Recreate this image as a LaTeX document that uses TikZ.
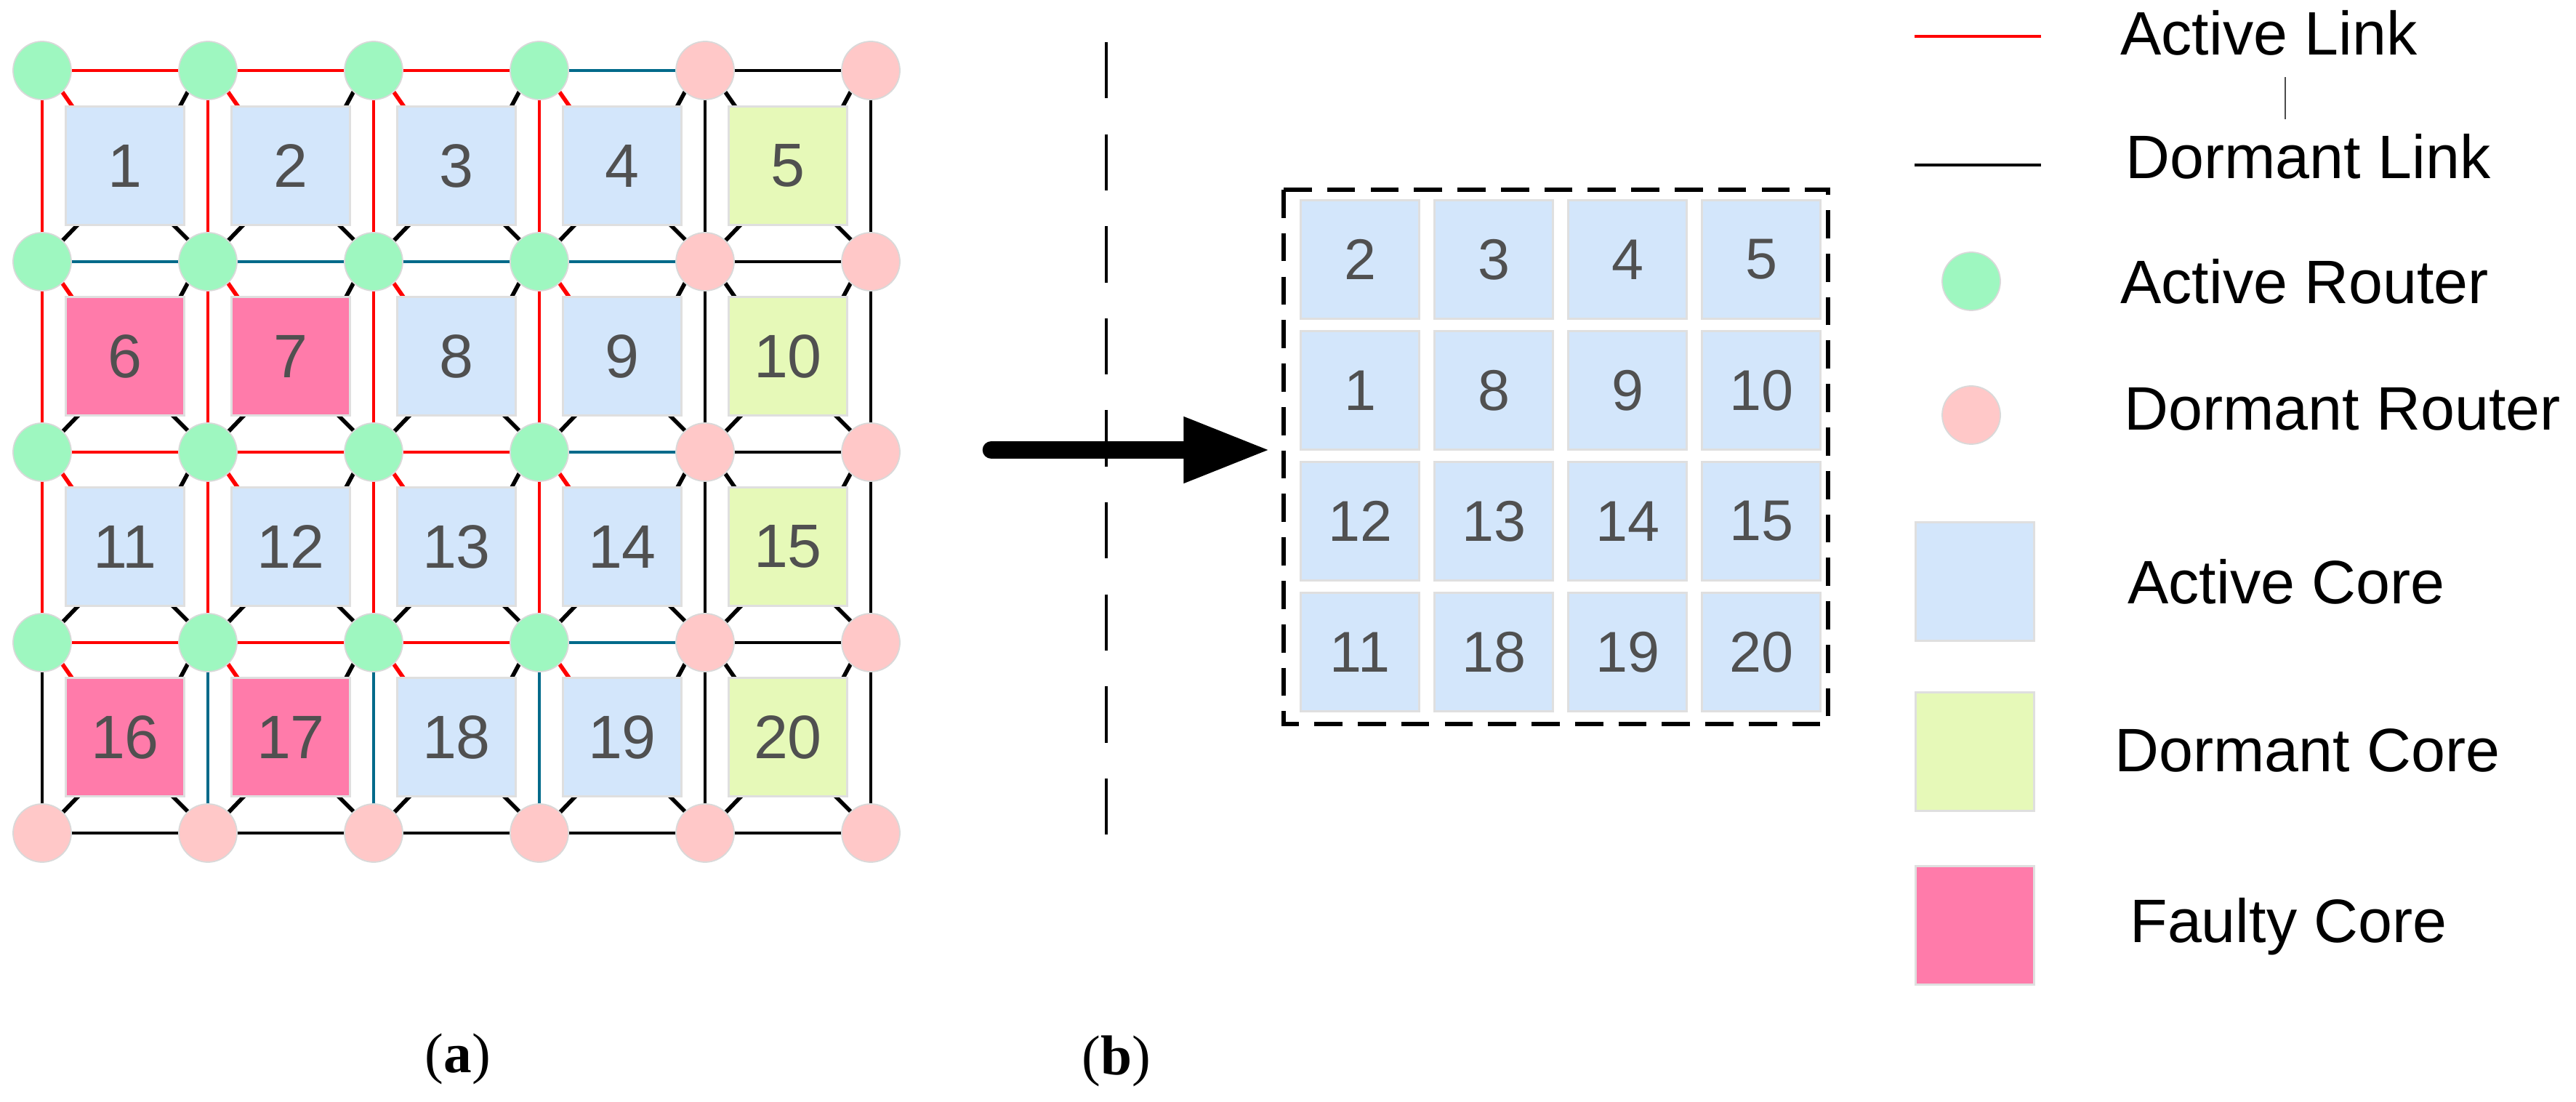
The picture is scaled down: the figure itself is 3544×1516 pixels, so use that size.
\documentclass[tikz,border=0pt]{standalone}
\usepackage{fontspec}
\setmainfont{Liberation Sans}
\newfontfamily\capfont{Liberation Serif}
\usetikzlibrary{arrows.meta}
\definecolor{arouter}{HTML}{9EF7C0}
\definecolor{drouter}{HTML}{FFC8C8}
\definecolor{acore}{HTML}{D3E6FB}
\definecolor{dcore}{HTML}{E6F9B8}
\definecolor{fcore}{HTML}{FF7BAA}
\definecolor{teal}{HTML}{006A8A}
\definecolor{numgray}{HTML}{505050}
\begin{document}
\begin{tikzpicture}[x=0.01cm,y=-0.01cm,
  router/.style={circle,draw=gray!30,line width=0.5pt,minimum size=0.8cm,inner sep=0pt},
  ar/.style={router,fill=arouter},
  dr/.style={router,fill=drouter},
  core/.style={rectangle,draw=gray!25,line width=0.8pt,minimum size=1.63cm,inner sep=0pt,text=numgray,font=\fontsize{24}{24}\selectfont},
  ac/.style={core,fill=acore},
  dc/.style={core,fill=dcore},
  fc/.style={core,fill=fcore},
  rl/.style={red,line width=1.3pt},
  tl/.style={teal,line width=1.3pt},
  bl/.style={black,line width=1.3pt},
  stub/.style={black,line width=1.6pt},
  rstub/.style={red,line width=1.6pt},
  leg/.style={anchor=west,font=\fontsize{24}{24}\selectfont}]
\useasboundingbox (0,0) rectangle (3544,1516);
% router coordinates
\def\xs{{58,286,514,742,970,1198}}
\def\ys{{97,360,622,884,1146}}
% links (drawn first)
\foreach \r/\y in {1/97,2/360,3/622,4/884,5/1146}{
  \foreach \c/\x in {1/58,2/286,3/514,4/742,5/970,6/1198}{
    \coordinate (p\r\c) at (\x,\y);}}
% horizontal links
\foreach \r in {1,3,4}{\foreach \a/\b in {1/2,2/3,3/4}{\draw[rl] (p\r\a) -- (p\r\b);}}
\foreach \a/\b in {1/2,2/3,3/4}{\draw[tl] (p2\a) -- (p2\b);}
\foreach \r in {1,2,3,4}{\draw[tl] (p\r4) -- (p\r5); \draw[bl] (p\r5) -- (p\r6);}
\foreach \a/\b in {1/2,2/3,3/4,4/5,5/6}{\draw[bl] (p5\a) -- (p5\b);}
% vertical links
\foreach \c in {1,2,3,4}{\foreach \a/\b in {1/2,2/3,3/4}{\draw[rl] (p\a\c) -- (p\b\c);}}
\draw[bl] (p41) -- (p51);
\foreach \c in {2,3,4}{\draw[tl] (p4\c) -- (p5\c);}
\foreach \c in {5,6}{\foreach \a/\b in {1/2,2/3,3/4,4/5}{\draw[bl] (p\a\c) -- (p\b\c);}}
% stubs
\foreach \r/\y in {1/97,2/360,3/622,4/884}{
  \foreach \c/\x in {1/58,2/286,3/514,4/742,5/970}{
    \pgfmathsetmacro{\xr}{\x+228}\pgfmathsetmacro{\yb}{\y+262}
    \ifnum\c<5 \def\ulst{rstub}\else\def\ulst{stub}\fi
    \draw[\ulst] (\x+26,\y+27) -- (\x+51,\y+63);
    \draw[stub] (\xr-27,\y+28) -- (\xr-50,\y+71);
    \draw[stub] (\x+51,\yb-52) -- (\x+28,\yb-28);
    \draw[stub] (\xr-50,\yb-52) -- (\xr-26,\yb-28);
  }}
% cores
\foreach \n/\r/\c/\s in {1/1/1/ac,2/1/2/ac,3/1/3/ac,4/1/4/ac,5/1/5/dc,
  6/2/1/fc,7/2/2/fc,8/2/3/ac,9/2/4/ac,10/2/5/dc,
  11/3/1/ac,12/3/2/ac,13/3/3/ac,14/3/4/ac,15/3/5/dc,
  16/4/1/fc,17/4/2/fc,18/4/3/ac,19/4/4/ac,20/4/5/dc}{
  \pgfmathsetmacro{\cx}{58+228*(\c-1)+114}
  \pgfmathsetmacro{\cy}{97+262*(\r-1)+131}
  \node[\s] (k\n) at (\cx,\cy) {\n};}
% routers
\foreach \r in {1,2,3,4}{\foreach \c in {1,2,3,4}{\node[ar] (R\r\c) at (p\r\c) {};}
  \foreach \c in {5,6}{\node[dr] (R\r\c) at (p\r\c) {};}}
\foreach \c in {1,...,6}{\node[dr] (R5\c) at (p5\c) {};}
% separator and arrow
\draw[black,line width=1.3pt,dash pattern=on 22pt off 14pt] (1522,58) -- (1522,1175);
\coordinate (as) at (1364,619);
\coordinate (ae) at (1748,619);
\draw[line width=7pt,line cap=round,-{Triangle[length=34pt,width=24pt]}] (as) -- (ae);
% right grid
\draw[black,line width=1.5pt,dash pattern=on 11pt off 6pt] (1766,261) rectangle (2515,996);
\foreach \lab [count=\i from 0] in {2,3,4,5,1,8,9,10,12,13,14,15,11,18,19,20}{
  \pgfmathtruncatemacro{\col}{mod(\i,4)}
  \pgfmathtruncatemacro{\row}{div(\i,4)}
  \pgfmathsetmacro{\cx}{1871+184*\col}
  \pgfmathsetmacro{\cy}{357+180*\row}
  \node[ac,font=\fontsize{22.5}{22.5}\selectfont] (m\lab) at (\cx,\cy) {\lab};}
% legend
\coordinate (l1a) at (2634,50); \coordinate (l1b) at (2808,50);
\draw[red,line width=1.2pt] (l1a) -- (l1b);
\coordinate (l2a) at (2634,227); \coordinate (l2b) at (2808,227);
\draw[black,line width=1.2pt] (l2a) -- (l2b);
\node[leg] (t1) at (2905,45) {Active Link};
\node[leg] (t2) at (2912,215) {Dormant Link};
\draw[black!70,line width=0.6pt] (3144,106) -- (3144,164);
\node[ar] (lr1) at (2712,387) {};
\node[dr] (lr2) at (2712,571) {};
\node[leg] (t3) at (2905,387) {Active Router};
\node[leg] (t4) at (2910,563) {Dormant Router};
\node[ac] (lc1) at (2717,800) {};
\node[dc] (lc2) at (2717,1034) {};
\node[fc] (lc3) at (2717,1273) {};
\node[leg] (t5) at (2915,800) {Active Core};
\node[leg] (t6) at (2897,1032) {Dormant Core};
\node[leg] (t7) at (2918,1275) {Faulty Core};
% captions
\node[font=\capfont\fontsize{22}{22}\selectfont] (ca) at (630,1457) {(\textbf{a})};
\node[font=\capfont\fontsize{22}{22}\selectfont] (cb) at (1536,1460) {(\textbf{b})};
\end{tikzpicture}
\end{document}
